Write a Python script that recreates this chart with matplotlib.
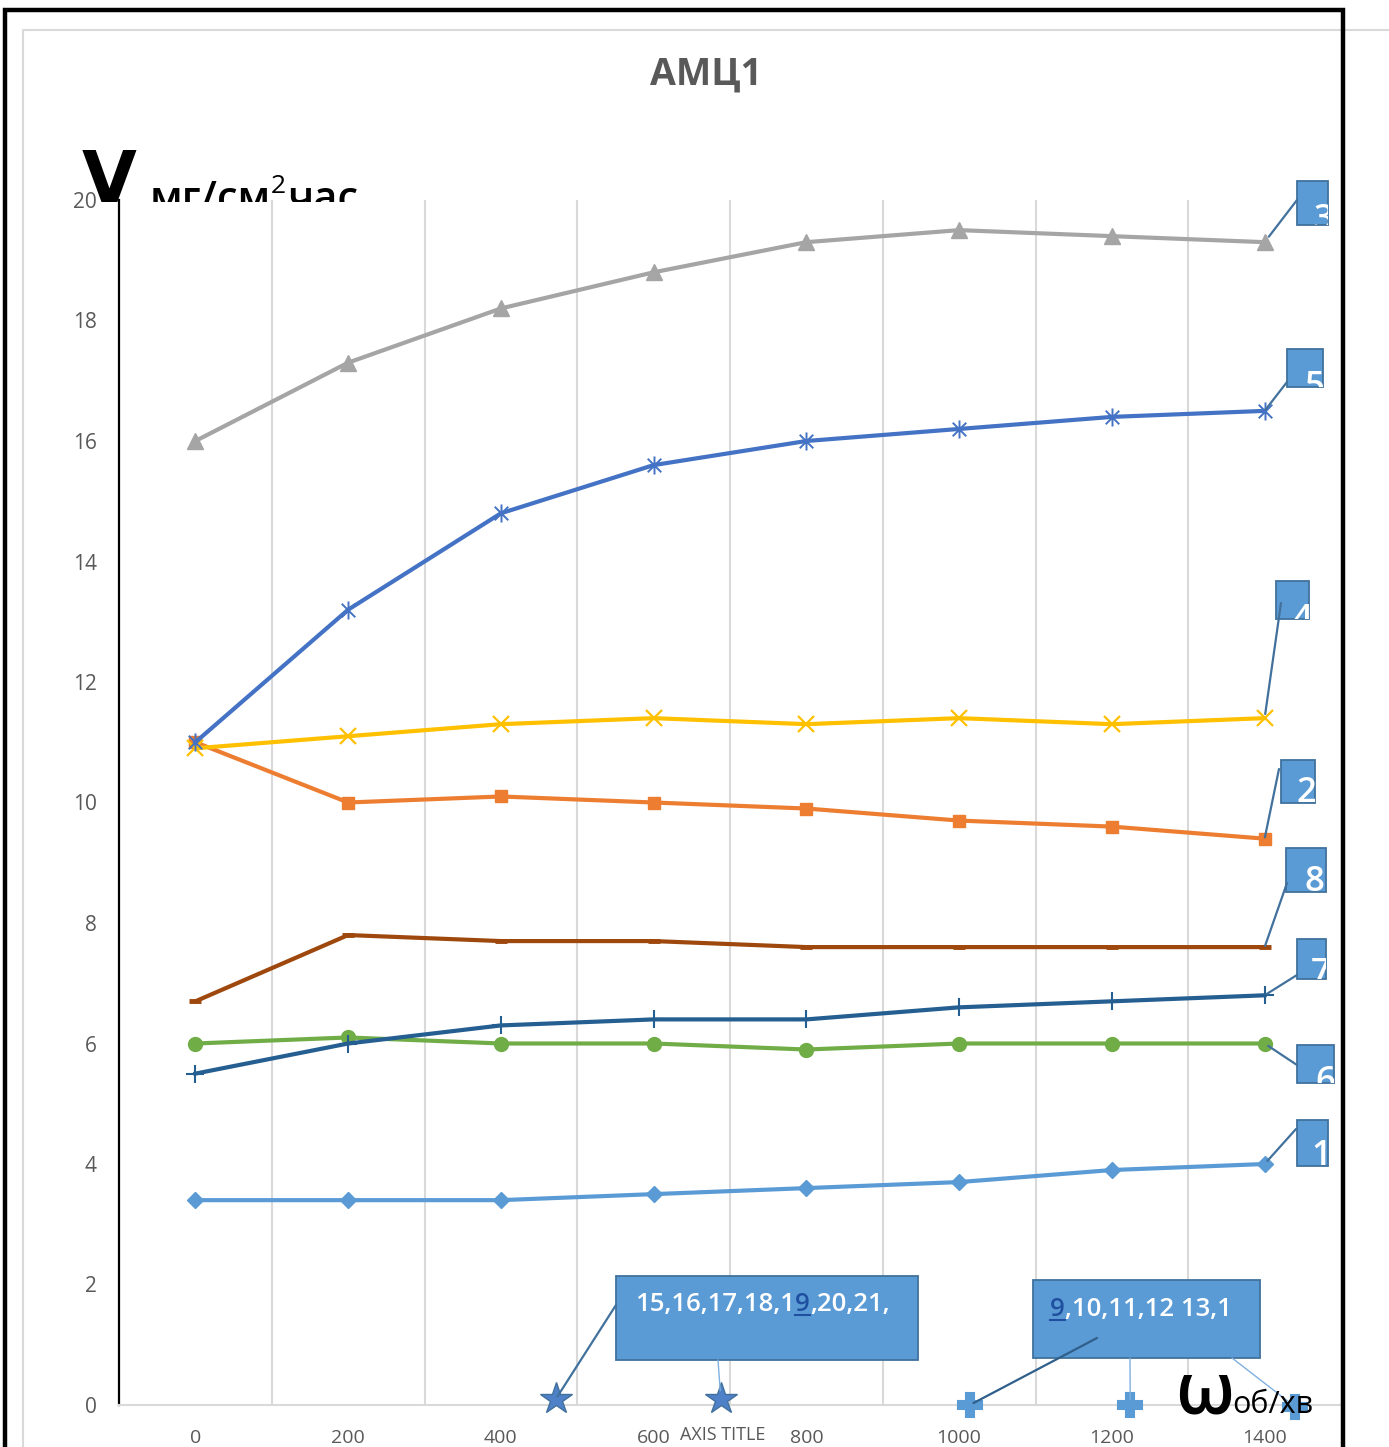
import matplotlib
matplotlib.use("Agg")
import matplotlib.pyplot as plt
from matplotlib.path import Path
from matplotlib.patches import Rectangle
from matplotlib.lines import Line2D
from matplotlib.text import Annotation
from matplotlib.transforms import Bbox, TransformedBbox
import numpy as np

W, H, DPI = 1389, 1447, 100

# ---- data -------------------------------------------------------------
speeds = ["0", "200", "400", "600", "800", "1000", "1200", "1400"]
s1 = [3.4, 3.4, 3.4, 3.5, 3.6, 3.7, 3.9, 4.0]
s2 = [11.0, 10.0, 10.1, 10.0, 9.9, 9.7, 9.6, 9.4]
s3 = [16.0, 17.3, 18.2, 18.8, 19.3, 19.5, 19.4, 19.3]
s4 = [10.9, 11.1, 11.3, 11.4, 11.3, 11.4, 11.3, 11.4]
s5 = [11.0, 13.2, 14.8, 15.6, 16.0, 16.2, 16.4, 16.5]
s6 = [6.0, 6.1, 6.0, 6.0, 5.9, 6.0, 6.0, 6.0]
s7 = [5.5, 6.0, 6.3, 6.4, 6.4, 6.6, 6.7, 6.8]
s8 = [6.7, 7.8, 7.7, 7.7, 7.6, 7.6, 7.6, 7.6]

# loose points sitting on the zero line
star_x = [2.36, 3.44]
star_y = [0.1, 0.1]
plus_x = [5.07, 6.12, 7.20]
plus_y = [0.0, 0.0, -0.03]

y_ticks = list(range(0, 21, 2))

GRAY_TXT = "#595959"
GRID = "#D9D9D9"
BOX_FC = "#5B9BD5"
BOX_EC = "#41719C"
LINK = "#1F4FA0"
CYR = ["Open Sans", "DejaVu Sans"]


def fx(px):
    return px / W


def fy(py):
    return 1.0 - py / H


fig = plt.figure(figsize=(W / DPI, H / DPI), dpi=DPI)
fig.patch.set_facecolor("white")

ax = fig.add_axes([fx(119), fy(1405), fx(1341) - fx(119), fy(200) - fy(1405)])
ax.set_xlim(-0.5, 7.5)
ax.set_ylim(0, 20)
x = np.arange(len(speeds))

ax.set_xticks(x)
ax.set_xticklabels(speeds)
ax.set_xticks(np.arange(0.5, 7.5, 1.0), minor=True)
ax.set_yticks(y_ticks)
ax.grid(which="minor", axis="x", color=GRID, lw=1.5)
ax.tick_params(which="both", length=0)
ax.tick_params(axis="y", pad=16, labelsize=15, labelcolor=GRAY_TXT)
ax.tick_params(axis="x", pad=17, labelsize=14, labelcolor=GRAY_TXT)
for lab in ax.get_xticklabels() + ax.get_yticklabels():
    lab.set_family(CYR)
for s in ("top", "right"):
    ax.spines[s].set_visible(False)
ax.spines["left"].set_color("black")
ax.spines["left"].set_linewidth(1.6)
ax.spines["bottom"].set_color(GRID)
ax.spines["bottom"].set_linewidth(1.5)

asterisk = Path(
    [(0, -1), (0, 1), (-0.75, -0.75), (0.75, 0.75), (-0.75, 0.75), (0.75, -0.75)],
    [Path.MOVETO, Path.LINETO, Path.MOVETO, Path.LINETO, Path.MOVETO, Path.LINETO],
)

LW = 3.0
ax.plot(x, s1, color="#5B9BD5", lw=LW, marker="D", ms=8, zorder=3)
ax.plot(x, s2, color="#ED7D31", lw=LW, marker="s", ms=9, zorder=3)
ax.plot(x, s3, color="#A5A5A5", lw=LW, marker="^", ms=12, zorder=3)
ax.plot(x, s4, color="#FFC000", lw=LW, marker="x", ms=12, mew=1.6, zorder=3)
ax.plot(x, s5, color="#4472C4", lw=LW, marker=asterisk, ms=13, mew=1.4, zorder=3)
ax.plot(x, s6, color="#70AD47", lw=LW, marker="o", ms=10, zorder=3)
ax.plot(x, s7, color="#255E91", lw=LW, marker="+", ms=13, mew=1.5, zorder=3)
ax.plot(x, s8, color="#9E480E", lw=LW, marker="_", ms=8, mew=3.5, zorder=3)

ax.plot(star_x, star_y, ls="none", marker="*", ms=24, mfc="#4F81C8",
        mec="#41719C", mew=1.0, clip_on=False, zorder=4)

# ---- frame ------------------------------------------------------------
fig.add_artist(Line2D([fx(23), fx(23), fx(1389)], [fy(1447), fy(30), fy(30)],
                      transform=fig.transFigure, color=GRID, lw=1.5))
fig.add_artist(Line2D([fx(5), fx(5), fx(1343), fx(1343)],
                      [fy(1447), fy(10), fy(10), fy(1447)],
                      transform=fig.transFigure, color="black", lw=3.2,
                      solid_joinstyle="miter", zorder=10))

# ---- titles -----------------------------------------------------------
fig.text(fx(706), fy(75), "АМЦ1", ha="center", va="center", fontsize=27,
         fontweight="bold", color=GRAY_TXT, family=CYR)

fig.text(fx(82), fy(202), "V", fontsize=51, color="black", ha="left",
         va="baseline", family=["DejaVu Sans"], fontweight="bold", zorder=6)

fig.canvas.draw()
rend = fig.canvas.get_renderer()
unit_clip = TransformedBbox(Bbox([[0, fy(202)], [1, 1]]), fig.transFigure)


def put(xpx, ypx, s, **kw):
    t = fig.text(fx(xpx), fy(ypx), s, ha="left", va="baseline", **kw)
    bb = t.get_window_extent(renderer=rend)
    return t, bb.x1


t, xe = put(150, 211, "мг/см", fontsize=30, color="black", family=CYR,
            fontweight="semibold")
t.set_clip_box(unit_clip)
t, xe = put(xe, 193, "2", fontsize=19, color="black", family=CYR)
t.set_clip_box(unit_clip)
t, xe = put(xe + 1, 211, "час", fontsize=30, color="black", family=CYR,
            fontweight="semibold")
t.set_clip_box(unit_clip)

fig.text(fx(1175), fy(1413), "ω", fontsize=52, color="black", ha="left",
         va="baseline", family=CYR, fontweight="semibold", zorder=9)
fig.text(fx(1232), fy(1413), "об/хв", fontsize=22, color="black", ha="left",
         va="baseline", family=CYR, zorder=9)
fig.text(fx(680), fy(1440), "AXIS TITLE", fontsize=13, color=GRAY_TXT,
         ha="left", va="baseline",
         family=["Liberation Sans Narrow", "Open Sans", "DejaVu Sans"])


# ---- callout helpers --------------------------------------------------
def box(x0, y0, x1, y1):
    r = Rectangle((fx(x0), fy(y1)), fx(x1) - fx(x0), fy(y0) - fy(y1),
                  transform=fig.transFigure, fc=BOX_FC, ec=BOX_EC, lw=1.3,
                  zorder=7)
    fig.add_artist(r)
    return r


def leader(start_px, target, color=BOX_EC, lw=1.6, shrink=2, z=9):
    a = Annotation("", xy=target, xycoords=ax.transData,
                   xytext=(fx(start_px[0]), fy(start_px[1])),
                   textcoords=fig.transFigure, annotation_clip=False,
                   arrowprops=dict(arrowstyle="-", color=color, lw=lw,
                                   shrinkA=0, shrinkB=shrink))
    a.set_zorder(z)
    fig.add_artist(a)


# ---- series number callouts ------------------------------------------
series_end = {"1": s1, "2": s2, "3": s3, "4": s4, "5": s5, "6": s6,
              "7": s7, "8": s8}
callouts = [
    ("3", (1297, 181, 1328, 225), (1314, 229), (1297, 200), 5),
    ("5", (1287, 349, 1323, 387), (1305, 396), (1287, 382), 1),
    ("4", (1276, 581, 1309, 619), (1292, 629), (1281, 603), 3),
    ("2", (1281, 760, 1315, 803), (1297, 802), (1279, 769), 1),
    ("8", (1286, 848, 1326, 892), (1305, 891), (1287, 883), 1),
    ("7", (1297, 939, 1326, 979), (1311, 983), (1297, 975), 2),
    ("6", (1297, 1045, 1334, 1083), (1315, 1091), (1297, 1065), 3),
    ("1", (1297, 1120, 1328, 1166), (1311, 1165), (1296, 1129), 3),
]
for lab, (x0, y0, x1, y1), (tx, ty), start, shr in callouts:
    r = box(x0, y0, x1, y1)
    t = fig.text(fx(tx), fy(ty), lab, fontsize=25, color="white", ha="left",
                 va="baseline", family=CYR, fontweight="semibold", zorder=8)
    t.set_clip_path(r)
    leader(start, (7, series_end[lab][-1]), shrink=shr)

# ---- point-number callouts at the bottom ------------------------------
box(616, 1276, 918, 1360)
box(1033, 1280, 1260, 1358)


def rich_line(xpx, ypx, parts, size):
    xe = xpx
    for s, col, under in parts:
        t = fig.text(fx(xe), fy(ypx), s, fontsize=size, color=col, ha="left",
                     va="baseline", family=CYR, fontweight="semibold",
                     zorder=9)
        bb = t.get_window_extent(renderer=rend)
        if under:
            fig.add_artist(Line2D([bb.x0 / W, bb.x1 / W],
                                  [fy(ypx + 4), fy(ypx + 4)],
                                  transform=fig.transFigure, color=col,
                                  lw=1.5, zorder=9))
        xe = bb.x1


rich_line(635, 1311, [("15,16,17,18,1", "white", False), ("9", LINK, True),
                      (",20,21,", "white", False)], 18.5)
rich_line(1050, 1316, [("9", LINK, True), (",10,11,12 13,1", "white", False)], 18.5)

leader((616, 1305), (star_x[0], star_y[0]), shrink=2)
leader((718, 1360), (star_x[1], star_y[1]), color="#7FB0E0", lw=1.0, shrink=6)
leader((1097, 1338), (plus_x[0], plus_y[0]), color="#2F5F8A", lw=1.6, shrink=3)
leader((1130, 1358), (plus_x[1], plus_y[1]), color="#7FB0E0", lw=1.0, shrink=4)
leader((1232, 1358), (plus_x[2], plus_y[2]), color="#7FB0E0", lw=1.0, shrink=4)

# plus-shaped point markers on the zero line, above the plot frame
ax_top = fig.add_axes(ax.get_position(), sharex=ax, sharey=ax, zorder=8)
ax_top.set_axis_off()
ax_top.patch.set_visible(False)
ax_top.plot(plus_x, plus_y, ls="none", marker="P", ms=17, mfc=BOX_FC,
            mec=BOX_FC, mew=1.5, clip_on=False)

fig.savefig("out.png", dpi=DPI, facecolor="white")
